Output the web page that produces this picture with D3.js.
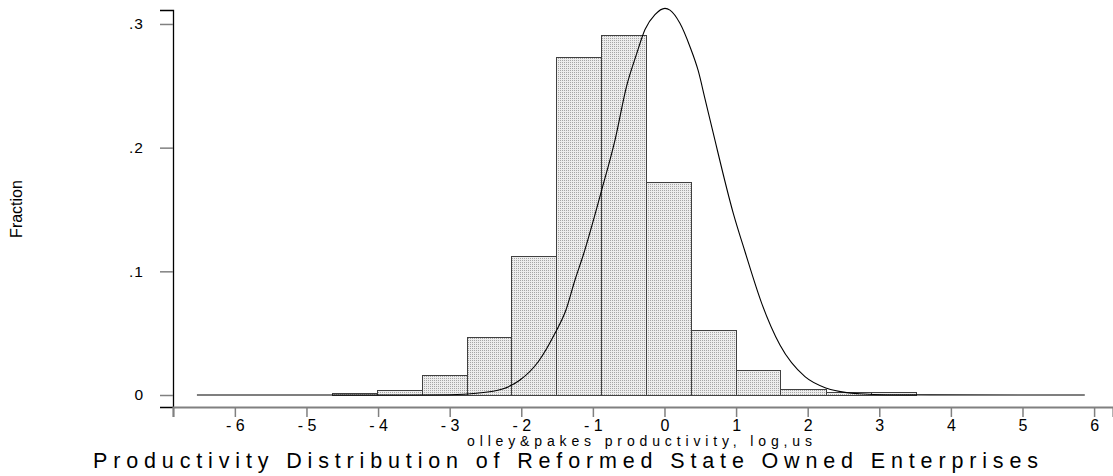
<!DOCTYPE html>
<html>
<head>
<meta charset="utf-8">
<script src="https://cdn.jsdelivr.net/npm/d3@7/dist/d3.min.js"></script>
<style>
  html, body { margin: 0; padding: 0; background: #fff; }
  svg { display: block; font-family: "Liberation Sans", Arial, sans-serif; }
</style>
</head>
<body>
<svg id="chart" width="1113" height="476"></svg>
<script>
// ---- data ----
const binLower = [-4.648, -4.020, -3.391, -2.763, -2.140, -1.515, -0.887, -0.263, 0.366, 0.994, 1.620, 2.251, 2.880];
const binUpper = [-4.020, -3.391, -2.763, -2.140, -1.515, -0.887, -0.263, 0.366, 0.994, 1.620, 2.251, 2.880, 3.508];
const fractions = [0.0014, 0.0038, 0.0162, 0.0466, 0.1124, 0.2735, 0.2913, 0.1724, 0.0528, 0.0200, 0.0046, 0.0022, 0.0024];

const curveX = [-6.53, -3.6, -2.996, -2.623, -2.274, -2.018, -1.763, -1.529, -1.376, -1.250, -1.134, -0.877, -0.691, -0.528, -0.388, -0.272, -0.133, 0.007, 0.077, 0.216, 0.356, 0.472, 0.566, 0.682, 0.961, 1.124, 1.358, 1.613, 1.962, 2.265, 2.545, 2.73, 3.1, 5.87];
const curveY = [0, 0, 0.0002, 0.0014, 0.0046, 0.0121, 0.0269, 0.0499, 0.0687, 0.0930, 0.1132, 0.1657, 0.2061, 0.2500, 0.2760, 0.2955, 0.3075, 0.3126, 0.3112, 0.3005, 0.2816, 0.2620, 0.2395, 0.2115, 0.1469, 0.1160, 0.0741, 0.0404, 0.0148, 0.0054, 0.0019, 0.0010, 0.0002, 0];

const xTicks = [-6, -5, -4, -3, -2, -1, 0, 1, 2, 3, 4, 5, 6];
const yTicks = [0, 0.1, 0.2, 0.3];

const title = "Productivity Distribution of Reformed State Owned Enterprises";
const xLabel = "olley&pakes productivity, log,us";
const yLabel = "Fraction";

// ---- drawing ----
const svg = d3.select("#chart");
const x = d3.scaleLinear().domain([-6.864, 6.264]).range([173, 1113]);
const y = d3.scaleLinear().domain([-0.0097, 0.3113]).range([407, 10]);

const defs = svg.append("defs");
const pat = defs.append("pattern").attr("id", "stipple")
  .attr("width", 2).attr("height", 2).attr("patternUnits", "userSpaceOnUse");
pat.append("rect").attr("width", 2).attr("height", 2).attr("fill", "#ededed");
pat.append("rect").attr("width", 1).attr("height", 1).attr("fill", "#a6a6a6");

// bars (edges snapped to pixel centres so shared edges draw as one line)
const px = v => Math.round(v) + 0.5;
svg.append("g").selectAll("rect").data(fractions).join("rect")
  .attr("x", (d, i) => px(x(binLower[i])))
  .attr("width", (d, i) => px(x(binUpper[i])) - px(x(binLower[i])))
  .attr("y", d => px(y(d)))
  .attr("height", d => px(y(0)) - px(y(d)))
  .attr("fill", "url(#stipple)")
  .attr("stroke", "#404040")
  .attr("stroke-width", 1);

// normal density curve
const pts = curveX.map((v, i) => [v, curveY[i]]);
svg.append("path")
  .datum(pts)
  .attr("fill", "none")
  .attr("stroke", "#000")
  .attr("stroke-width", 1.1)
  .attr("d", d3.line().x(d => x(d[0])).y(d => y(d[1])).curve(d3.curveMonotoneX));

// y axis
const yAxis = d3.axisLeft(y).tickValues(yTicks).tickSize(13).tickPadding(16)
  .tickFormat(d => d === 0 ? "0" : "." + Math.round(d * 10));
const gy = svg.append("g").attr("transform", "translate(173,0)").call(yAxis);
gy.attr("font-size", null).attr("font-family", null);
gy.select(".domain").attr("stroke", "#000").attr("stroke-width", 1.3);
gy.selectAll(".tick line").attr("stroke", "#808080").attr("stroke-width", 1.5);
gy.selectAll(".tick text").style("font-size", "15.5px").attr("fill", "#000")
  .style("letter-spacing", "1px");

// x axis
const xAxis = d3.axisBottom(x).tickValues(xTicks).tickSize(10).tickPadding(3)
  .tickFormat(d => d < 0 ? "- " + Math.abs(d) : String(d));
const gx = svg.append("g").attr("transform", "translate(0,407)").call(xAxis);
gx.attr("font-size", null).attr("font-family", null);
gx.select(".domain").attr("stroke", "#808080").attr("stroke-width", 2.2);
gx.selectAll(".tick line").attr("stroke", "#808080").attr("stroke-width", 1.5);
gx.selectAll(".tick text").style("font-size", "16px").attr("fill", "#000");

// x label
svg.append("text")
  .attr("x", 467).attr("y", 446)
  .style("font-size", "14px")
  .attr("textLength", 345).attr("lengthAdjust", "spacing")
  .text(xLabel);

// title
svg.append("text")
  .attr("x", 93).attr("y", 468)
  .style("font-size", "21.5px")
  .attr("textLength", 945).attr("lengthAdjust", "spacing")
  .text(title);

// y label
svg.append("text")
  .attr("transform", "translate(22,209) rotate(-90)")
  .attr("text-anchor", "middle")
  .style("font-size", "16px")
  .text(yLabel);
</script>
</body>
</html>
